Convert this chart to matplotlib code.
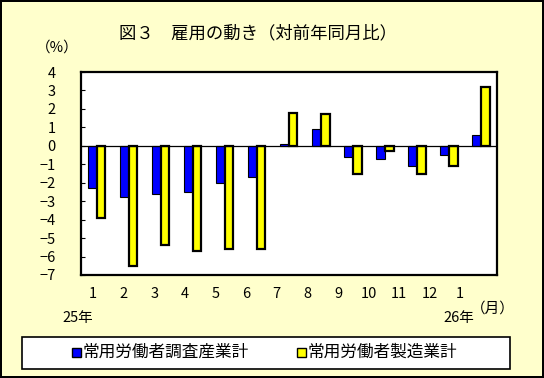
import matplotlib
matplotlib.use("Agg")
import matplotlib.pyplot as plt
from matplotlib.patches import Rectangle
import numpy as np

plt.rcParams['font.family'] = ['Noto Sans CJK JP', 'DejaVu Sans']

months = ["1", "2", "3", "4", "5", "6", "7", "8", "9", "10", "11", "12", "1"]
survey_total = [-2.3, -2.8, -2.6, -2.5, -2.0, -1.7, 0.1, 0.9, -0.6, -0.7, -1.1, -0.5, 0.6]
manufacturing = [-3.9, -6.5, -5.4, -5.7, -5.6, -5.6, 1.8, 1.7, -1.5, -0.3, -1.5, -1.1, 3.2]
series_names = ["常用労働者調査産業計", "常用労働者製造業計"]
yticks = [4, 3, 2, 1, 0, -1, -2, -3, -4, -5, -6, -7]
title = "図３　雇用の動き（対前年同月比）"

W, H = 544, 378
bg = "#FFFFCC"
fig = plt.figure(figsize=(W / 100, H / 100), dpi=100, facecolor=bg)
fig.patch.set_edgecolor("black")
fig.patch.set_linewidth(1.5)

def fx(px):
    return px / W

def fy(py):
    return 1 - py / H

ax = fig.add_axes([fx(80.7), fy(275), fx(497) - fx(80.7), fy(72) - fy(275)])
ax.set_facecolor("white")

x = np.arange(len(months))
bw = 0.27
ax.bar(x - bw / 2, survey_total, width=bw, color="#0000FF", edgecolor="black", linewidth=0.8, zorder=2)
ax.bar(x + bw / 2, manufacturing, width=bw, color="#FFFF00", edgecolor="black", linewidth=1.6, zorder=3)
ax.axhline(0, color="black", linewidth=0.9, zorder=4)

ax.set_xlim(-0.5, len(months) - 0.5)
ax.set_ylim(-7, 4)
ax.set_yticks(yticks)
ax.set_yticklabels([("−" + str(-v)) if v < 0 else str(v) for v in yticks], fontsize=10.5)
ax.tick_params(axis="y", direction="in", length=3, width=0.8, pad=18)
ax.set_xticks([])
for sp in ax.spines.values():
    sp.set_linewidth(1.6)
    sp.set_color("black")

# month labels
for i, m in enumerate(months):
    fig.text(fx(93.3 + 30.58 * i), fy(294), m, ha="center", va="center", fontsize=10.5)
fig.text(fx(78), fy(318), "25年", ha="center", va="center", fontsize=10.5)
fig.text(fx(459), fy(318), "26年", ha="center", va="center", fontsize=10.5)
fig.text(fx(493), fy(309), "（月）", ha="center", va="center", fontsize=10.5)
fig.text(fx(57), fy(48), "（%）", ha="center", va="center", fontsize=10.5)
fig.text(fx(258), fy(33), title, ha="center", va="center", fontsize=12.5)

# legend box
fig.patches.append(Rectangle((fx(22), fy(368.7)), fx(510) - fx(22), fy(336.7) - fy(368.7),
                             transform=fig.transFigure, facecolor="white", edgecolor="black",
                             linewidth=1.2, figure=fig))
leg_colors = ["#0000FF", "#FFFF00"]
leg_x = [72, 297]
for lx, c, name in zip(leg_x, leg_colors, series_names):
    fig.patches.append(Rectangle((fx(lx), fy(357)), fx(9), 9 / H, transform=fig.transFigure,
                                 facecolor=c, edgecolor="black", linewidth=1.0, figure=fig))
    fig.text(fx(lx + 11), fy(352), name, ha="left", va="center", fontsize=12)

fig.savefig("out.png", dpi=100, facecolor=bg, edgecolor="black")
